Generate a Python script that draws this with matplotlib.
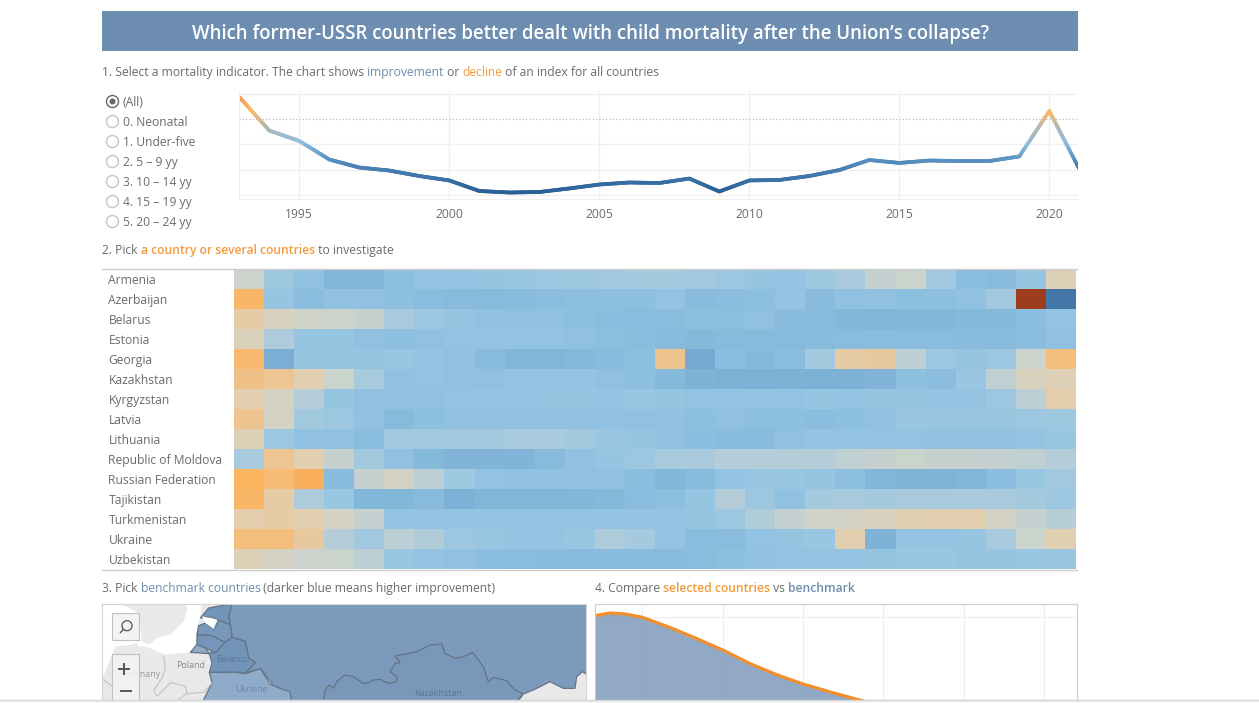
import numpy as np
import matplotlib
matplotlib.use("Agg")
import matplotlib.pyplot as plt
from matplotlib.collections import LineCollection
from matplotlib.colors import LinearSegmentedColormap, Normalize
from matplotlib.patches import Rectangle, Circle, Polygon

W, H = 1259, 703
plt.rcParams['font.family'] = ['Open Sans', 'DejaVu Sans']

TITLE = "Which former-USSR countries better dealt with child mortality after the Union\u2019s collapse?"
indicators = ["(All)", "0. Neonatal", "1. Under-five", "2. 5 \u2013 9 yy", "3. 10 \u2013 14 yy", "4. 15 \u2013 19 yy", "5. 20 \u2013 24 yy"]

years = list(range(1993, 2022))
index_values = [117.3, 90.9, 82.7, 68.1, 61.8, 59.4, 55.1, 51.6, 43.3, 42.1, 42.5, 45.3, 48.4, 50.0, 49.6,
                53.1, 42.9, 51.6, 52.0, 55.1, 59.8, 67.7, 65.4, 67.3, 66.9, 66.9, 70.5, 106.3, 60.6]
x_ticks = [1995, 2000, 2005, 2010, 2015, 2020]

countries = ["Armenia", "Azerbaijan", "Belarus", "Estonia", "Georgia", "Kazakhstan", "Kyrgyzstan", "Latvia",
             "Lithuania", "Republic of Moldova", "Russian Federation", "Tajikistan", "Turkmenistan", "Ukraine", "Uzbekistan"]
armenia = [-10, 5, 13, 20, 20, 14, 11, 10, 9, 8, 6, 5, 4, 3, 3, 4, 6, 9, 10, 5, 0, -7, -9, 4, 15, 18, 9, -18]
azerbaijan = [-38, 9, 15, 12, 12, 14, 16, 18, 18, 17, 15, 14, 14, 14, 11, 17, 15, 14, 10, 17, 13, 13, 14, 14, 13, 4, -100, 60]
belarus = [-22, -15, -11, -10, -8, 1, 6, 9, 13, 13, 13, 14, 15, 16, 16, 14, 14, 13, 17, 18, 20, 21, 20, 20, 19, 19, 15, 11]
estonia = [-16, -1, 9, 9, 12, 14, 12, 11, 11, 11, 11, 13, 14, 16, 18, 19, 18, 18, 18, 17, 16, 16, 16, 16, 17, 17, 16, 13]
georgia = [-36, 27, 9, 9, 9, 8, 10, 13, 17, 21, 21, 19, 17, 14, -28, 30, 15, 19, 15, 2, -22, -24, -5, 6, 9, 6, -10, -33]
kazakhstan = [-30, -27, -20, -9, 1, 12, 11, 13, 12, 10, 11, 10, 13, 14, 19, 24, 26, 26, 26, 26, 26, 22, 14, 15, 7, -6, -15, -17]
kyrgyzstan = [-20, -13, -3, 9, 12, 12, 12, 11, 10, 10, 9, 9, 10, 8, 9, 11, 11, 10, 11, 9, 10, 9, 9, 10, 10, 6, -5, -21]
latvia = [-28, -12, 3, 6, 13, 18, 14, 13, 12, 12, 13, 13, 13, 13, 13, 14, 13, 14, 14, 15, 14, 12, 7, 7, 7, 7, 6, 5]
lithuania = [-18, 6, 12, 13, 16, 4, 4, 4, 4, 0, 0, 3, 7, 9, 12, 15, 17, 17, 13, 10, 11, 11, 11, 12, 12, 12, 10, 8]
moldova = [1, -27, -20, -8, 3, 13, 19, 22, 22, 22, 18, 13, 9, 6, 1, 0, -3, -3, -3, -3, -6, -8, -9, -8, -8, -7, -6, -3]
russia = [-40, -35, -42, 17, -8, -13, -5, 5, 11, 12, 12, 13, 13, 15, 20, 17, 11, 7, 8, 9, 14, 20, 23, 23, 21, 15, 8, 4]
tajikistan = [-38, -22, -1, 8, 20, 20, 18, 25, 21, 21, 21, 20, 19, 16, 14, 9, -3, 6, 12, 2, 1, 2, 0, 0, 0, 0, 3, 6]
turkmenistan = [-21, -23, -20, -13, -7, 10, 10, 10, 10, 10, 10, 10, 10, 10, 10, 9, 6, -2, -7, -11, -13, -15, -19, -20, -20, -12, -7, -4]
ukraine = [-33, -33, -24, -3, 4, -5, -2, 6, 8, 10, 10, 8, -1, 2, 11, 16, 16, 11, 9, 8, -20, 24, 10, 10, 9, 0, -9, -19]
uzbekistan = [-17, -13, -10, -9, -5, 8, 10, 13, 15, 16, 17, 18, 17, 17, 17, 16, 14, 13, 11, 10, 10, 9, 8, 8, 9, 9, 8, 7]
heat_rows = [armenia, azerbaijan, belarus, estonia, georgia, kazakhstan, kyrgyzstan, latvia, lithuania, moldova,
             russia, tajikistan, turkmenistan, ukraine, uzbekistan]

density_x = [-0.59, -0.4, -0.215, 0, 0.32, 0.65, 1, 1.35, 1.68, 2, 2.35, 2.75, 3.02]
density_y = [0.408, 0.4215, 0.4165, 0.40, 0.353, 0.298, 0.2365, 0.1665, 0.1115, 0.0665, 0.025, -0.0185, -0.047]
density_ticks = [0, 1, 2, 3, 4, 5]

GREY = "#6b6b6b"
BLUE_T = "#6d8db1"
ORANGE_T = "#f39a3c"
FS = 8.7

fig = plt.figure(figsize=(W / 100, H / 100), dpi=100, facecolor="white")


def px_axes(x0, y0, x1, y1, **kw):
    return fig.add_axes([x0 / W, 1 - y1 / H, (x1 - x0) / W, (y1 - y0) / H], **kw)


page = px_axes(0, 0, W, H)
page.set_xlim(0, W)
page.set_ylim(H, 0)
page.axis("off")


def rich(x, y, parts, size=FS):
    r = fig.canvas.get_renderer()
    for s, c, w in parts:
        page.text(x, y, s, color=c, fontsize=size, fontweight=w, va="center", ha="left")
        bb = page.text(0, 0, s.replace(" ", "\u00a0"), fontsize=size, fontweight=w, alpha=0)
        x += bb.get_window_extent(r).width
        bb.remove()


# Header
page.add_patch(Rectangle((102, 11), 976, 40, fc=BLUE_T, ec="none"))
page.text(590.5, 33.8, TITLE, color="white", fontsize=13.4, fontweight="semibold", ha="center", va="center")

rich(102, 72.5, [("1. Select a mortality indicator. The chart shows ", GREY, "normal"), ("improvement", BLUE_T, "normal"),
                 (" or ", GREY, "normal"), ("decline", ORANGE_T, "normal"), (" of an index for all countries", GREY, "normal")])
rich(102, 250.5, [("2. Pick ", GREY, "normal"), ("a country or several countries", ORANGE_T, "semibold"), (" to investigate", GREY, "normal")])
rich(102, 588.5, [("3. Pick ", GREY, "normal"), ("benchmark countries", BLUE_T, "normal"), (" (darker blue means higher improvement)", GREY, "normal")])
rich(595, 588.5, [("4. Compare ", GREY, "normal"), ("selected countries", ORANGE_T, "semibold"), (" vs ", GREY, "normal"), ("benchmark", BLUE_T, "semibold")])

# Radio list
for i, lab in enumerate(indicators):
    y = 101.5 + 20 * i
    page.add_patch(Circle((112.5, y), 6, fc="white", ec="#666666" if i == 0 else "#c4c4c4", lw=1.0))
    if i == 0:
        page.add_patch(Circle((112.5, y), 3, fc="#666666", ec="none"))
    page.text(123, y + 0.8, lab, color=GREY, fontsize=FS, va="center", ha="left")

# Line chart
ax = px_axes(239.3, 91, 1078, 199)
ax.set_xlim(1993, 1993 + (1078 - 239.3) / 30)
ax.set_ylim(37, 122.05)
for s in ax.spines.values():
    s.set_visible(False)
ax.spines["bottom"].set_visible(True)
ax.spines["bottom"].set_color("#efefef")
ax.spines["left"].set_visible(True)
ax.spines["left"].set_color("#efefef")
ax.set_xticks(x_ticks)
ax.set_yticks([40, 60, 80, 120])
ax.set_yticklabels([])
ax.tick_params(length=0, labelsize=FS, labelcolor=GREY, pad=6.5)
ax.grid(True, color="#f0f0f0", lw=1)
ax.set_axisbelow(True)
ax.axhline(100, color="#b4b4b4", lw=0.8, ls=(0, (1, 2)))
line_cmap = LinearSegmentedColormap.from_list("idx", [(0, "#2a5f96"), (0.3, "#4f86b8"), (0.52, "#8fbfde"),
                                                      (0.66, "#a8b8b8"), (0.85, "#fdbb6c"), (1, "#f4994a")])
sx, sy = [], []
for a, b, c, d in zip(years[:-1], years[1:], index_values[:-1], index_values[1:]):
    tt = np.linspace(0, 1, 24)
    sx.extend(a + (b - a) * tt)
    sy.extend(c + (d - c) * tt)
sx, sy = np.array(sx), np.array(sy)
segs = np.stack([np.column_stack([sx[:-1], sy[:-1]]), np.column_stack([sx[1:], sy[1:]])], axis=1)
lc = LineCollection(segs, cmap=line_cmap, norm=Normalize(42, 117), lw=2.7, capstyle="round")
lc.set_array((sy[:-1] + sy[1:]) / 2)
ax.add_collection(lc)

# Heat table
heat_cmap = LinearSegmentedColormap.from_list("heat", [
    (0.0, "#9e3d1e"), (60 / 160, "#fdb45f"), (80 / 160, "#e3cfb0"), (90 / 160, "#cfd4cc"), (100 / 160, "#aacbdd"),
    (110 / 160, "#95c5e3"), (120 / 160, "#84b8da"), (130 / 160, "#78abd3"), (1.0, "#4476a8")])
hx = px_axes(234, 269.5, 1076, 569.5)
hx.imshow(np.array(heat_rows), cmap=heat_cmap, vmin=-100, vmax=60, aspect="auto", interpolation="nearest")
hx.axis("off")
for i, c in enumerate(countries):
    page.text(108.5, 280.3 + 20 * i, c, color=GREY, fontsize=FS, va="center", ha="left")
page.plot([102, 1077], [269.2, 269.2], color="#cccccc", lw=1)
page.plot([102, 1077], [569.8, 569.8], color="#cccccc", lw=1)


# Map panel: outlines are given in the two reference crops' coordinates
def crop_a(pts):
    return [(102 + x / 3, 603 + y / 3) for x, y in pts]


def crop_b(pts):
    return [(270 + x / 3, 620 + y / 3) for x, y in pts]


mp = px_axes(102, 603.5, 585.5, 700)
mp.set_xlim(102, 585.5)
mp.set_ylim(700, 603.5)
mp.set_facecolor("#e9e9e9")
for s in mp.spines.values():
    s.set_color("#d4d4d4")
mp.set_xticks([])
mp.set_yticks([])

sea_east = crop_a([(250, 0), (300, 0), (295, 40), (285, 80), (280, 120), (265, 148), (190, 155), (130, 130), (110, 130),
                   (90, 100), (140, 125), (165, 105), (205, 95), (245, 55), (255, 20)])
sea_west = crop_a([(0, 0), (50, 0), (110, 30), (120, 110), (90, 125), (40, 130), (0, 230)])
riga = crop_a([(300, 40), (345, 50), (335, 78), (310, 60)])
for s in (sea_east, sea_west):
    mp.add_patch(Polygon(s, fc="white", ec="none"))

russia_shape = [(232, 598), (592, 598), (592, 710), (272, 710)] + crop_a([(510, 240), (475, 197), (430, 210), (460, 178), (440, 165),
                                                                         (430, 115), (390, 103), (385, 65), (380, 40)])
kaz_shape = crop_b([(160, 245), (165, 210), (178, 195), (190, 205), (200, 185), (225, 165), (250, 170), (280, 190), (295, 188),
                    (310, 180), (330, 178), (355, 190), (380, 185), (380, 170), (360, 155), (375, 130), (390, 128), (375, 108),
                    (440, 95), (480, 75), (515, 72), (525, 100), (555, 115), (580, 110), (608, 97), (640, 140), (655, 185),
                    (670, 172), (710, 182), (735, 210), (760, 222), (740, 245)])
far_east = crop_b([(740, 250), (760, 222), (790, 210), (840, 185), (880, 205), (915, 205), (920, 170), (938, 155), (960, 170), (960, 250)])
ukr_shape = crop_a([(322, 208), (395, 207), (430, 212), (475, 197)]) + crop_b([(0, 192), (30, 205), (60, 215), (65, 250)]) + crop_a([(300, 300), (330, 240)])
bel_shape = crop_a([(322, 152), (368, 118), (390, 103), (430, 115), (440, 165), (460, 178), (430, 210), (395, 207), (322, 208), (330, 180)])
est_shape = crop_a([(295, 45), (320, 15), (345, 10), (390, 3), (380, 40), (385, 65), (350, 52), (328, 42)])
lat_shape = crop_a([(285, 95), (290, 68), (310, 60), (335, 78), (350, 52), (385, 65), (390, 103), (368, 118), (330, 98)])
lit_shape = crop_a([(285, 95), (330, 98), (368, 118), (340, 150), (310, 135), (285, 125)])
kal_shape = crop_a([(265, 148), (285, 125), (310, 135), (322, 152)])

BORDER = "#657384"
for s, fc in [(russia_shape, "#7c9bbc"), (ukr_shape, "#8fabc9"), (bel_shape, "#7294b9"), (est_shape, "#7294b9"),
              (lat_shape, "#7798bb"), (lit_shape, "#7596ba"), (kal_shape, "#8fabc9")]:
    mp.add_patch(Polygon(s, fc=fc, ec=BORDER, lw=0.9, joinstyle="round"))
mp.add_patch(Polygon(riga, fc="white", ec="none"))
mp.add_patch(Polygon(kaz_shape, fc="#7897b9", ec=BORDER, lw=0.9, joinstyle="round"))
mp.add_patch(Polygon(far_east, fc="#e9e9e9", ec=BORDER, lw=0.9, joinstyle="round"))

for line in ([(185, 160), (190, 195), (180, 225), (155, 262), (165, 280), (205, 240)],
             [(205, 238), (250, 250), (255, 270), (230, 290)],
             [(255, 272), (305, 268), (330, 240)],
             [(5, 230), (50, 265), (70, 295)]):
    xs, ys = zip(*crop_a(line))
    mp.plot(xs, ys, color="#bdbdbd", lw=0.7, zorder=2)

for t, p, c in [("Poland", crop_a([(265, 188)])[0], "#8a8a8a"), ("Germany", crop_a([(120, 215)])[0], "#9a9a9a"),
                ("Belarus", crop_a([(388, 168)])[0], "#5d7896"), ("Ukraine", crop_a([(450, 260)])[0], "#6d88a8"),
                ("Kazakhstan", crop_b([(503, 222)])[0], "#5d7896")]:
    mp.text(p[0], p[1], t, color=c, fontsize=6.4, ha="center", va="center", zorder=3)

mp.add_patch(Rectangle((112, 613), 27.3, 27.3, fc="#f3f3f3", ec="#bdbdbd", lw=0.8, alpha=0.95, zorder=4))
mp.add_patch(Circle((127, 625.7), 5, fc="none", ec="#555555", lw=0.9, zorder=5))
mp.plot([120.5, 123.5], [632.5, 629.3], color="#555555", lw=1.0, zorder=5)
mp.add_patch(Rectangle((112, 654), 27.3, 50, fc="#f3f3f3", ec="#bdbdbd", lw=0.8, alpha=0.88, zorder=4))
mp.plot([119, 129], [669, 669], color="#555555", lw=1.4, zorder=5)
mp.plot([124, 124], [664, 674], color="#555555", lw=1.4, zorder=5)
mp.plot([121, 131], [691, 691], color="#555555", lw=1.4, zorder=5)

# Comparison panel
dx = px_axes(594.5, 603.5, 1077, 700)
dx.set_xlim(-0.5945, (1077 - 642.3) / 80.4)
dx.set_ylim(-0.0135, 0.469)
for s in dx.spines.values():
    s.set_color("#cccccc")
dx.set_xticks(density_ticks)
dx.set_yticks([0.4])
dx.set_xticklabels([])
dx.set_yticklabels([])
dx.tick_params(length=0)
dx.grid(True, color="#f0f0f0", lw=1)
dx.set_axisbelow(True)
dx.fill_between(density_x, density_y, -0.1, color="#6d8db1", alpha=0.75, lw=0)
dx.plot(density_x, density_y, color="#f28e2b", lw=2.3)

# Page bottom edge
page.add_patch(Rectangle((0, 700), W, 3, fc="#f4f4f4", ec="none", zorder=10))
page.plot([0, W], [700.3, 700.3], color="#d4d4d4", lw=1, zorder=11)
page.set_zorder(5)
page.patch.set_alpha(0)

fig.savefig("out.png", dpi=100)
